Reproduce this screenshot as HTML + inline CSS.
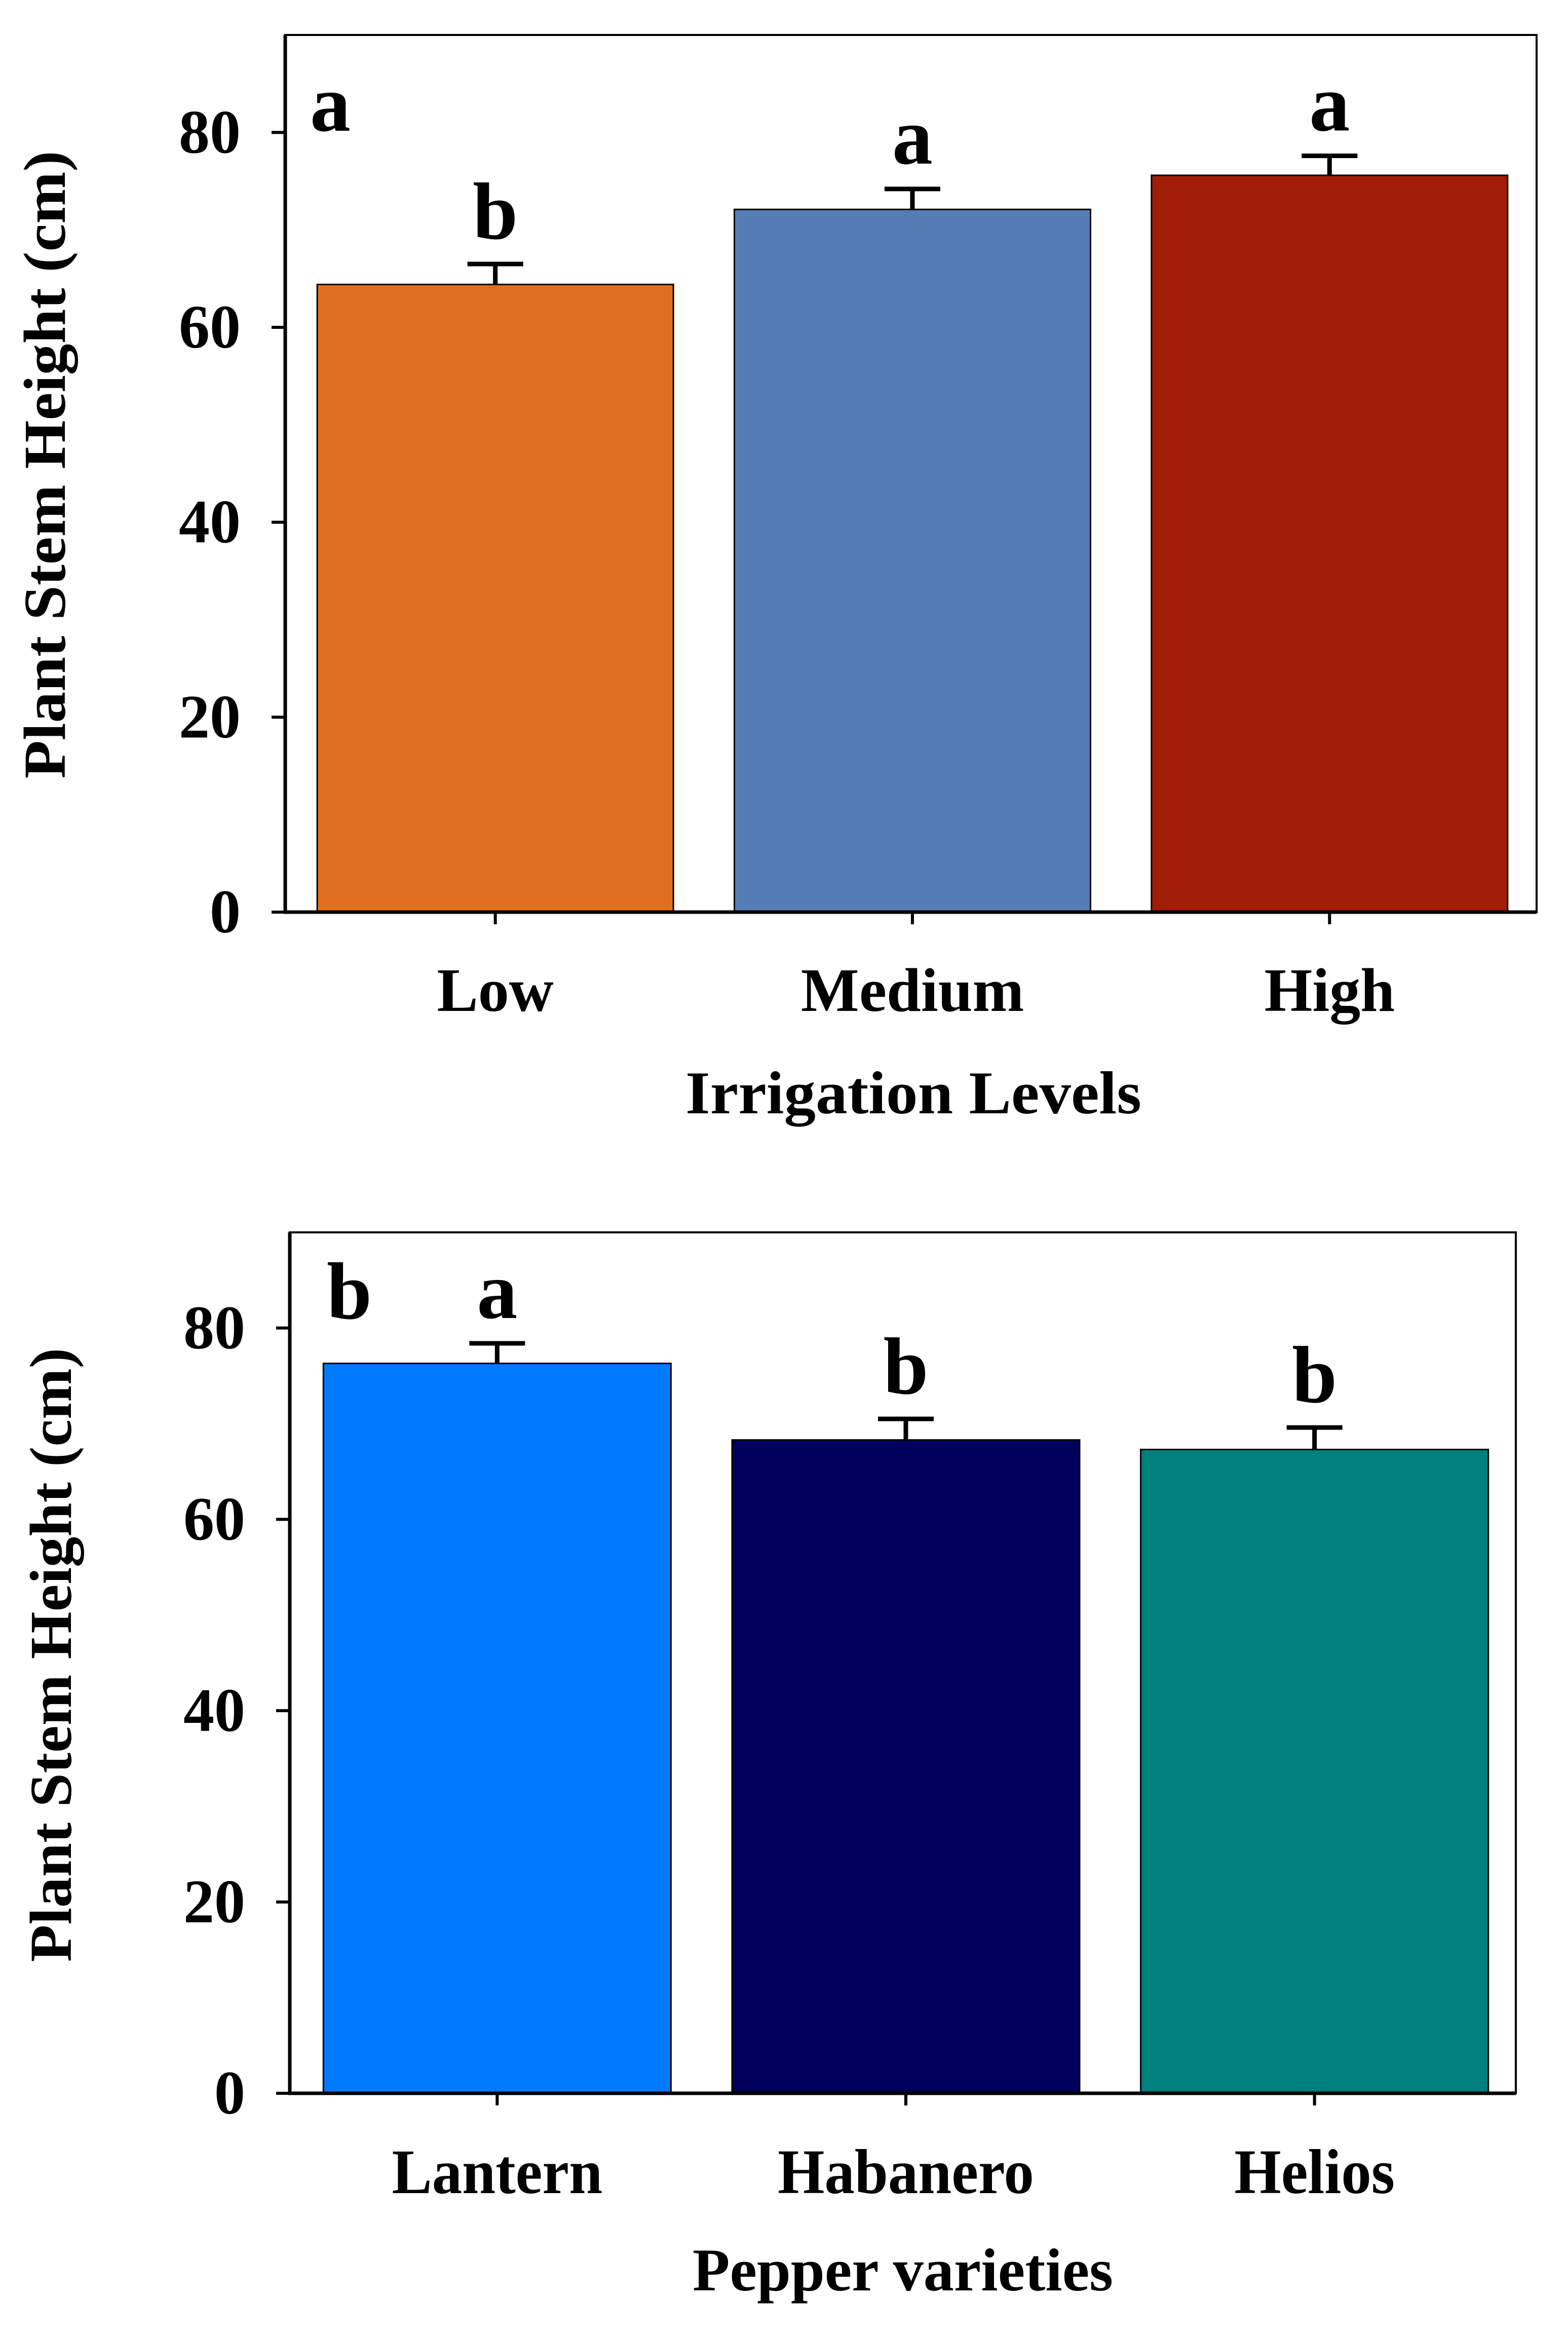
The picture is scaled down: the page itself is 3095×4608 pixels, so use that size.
<!DOCTYPE html>
<html><head><meta charset="utf-8"><style>
html,body{margin:0;padding:0;background:#fff}
svg{display:block}
text{font-family:"Liberation Serif",serif;font-weight:bold;fill:#000}
</style></head><body>
<svg id="chart" width="3095" height="4608" viewBox="0 0 3095 4608" xmlns="http://www.w3.org/2000/svg"></svg>
<script>
// Panel a data
const catsA = ["Low", "Medium", "High"];
const valsA = [64.4, 72.1, 75.6];
const errA = [2.1, 2.1, 2.0];
const lettersA = ["b", "a", "a"];
const colorsA = ["#E07020", "#557CB4", "#A01E07"];
// Panel b data
const catsB = ["Lantern", "Habanero", "Helios"];
const valsB = [76.3, 68.3, 67.3];
const errB = [2.1, 2.2, 2.3];
const lettersB = ["a", "b", "b"];
const colorsB = ["#007BFF", "#00005C", "#007F7F"];
const yTicks = [0, 20, 40, 60, 80];
const yMax = 90;

const svg = document.getElementById('chart');
const NS = 'http://www.w3.org/2000/svg';
function mk(tag, attrs, parent){
  const e = document.createElementNS(NS, tag);
  for (const k in attrs) e.setAttribute(k, attrs[k]);
  (parent||svg).appendChild(e);
  return e;
}

function panel(cfg){
  const g = mk('g', {});
  
  
  const y = v => cfg.y0 - (v / yMax) * (cfg.y0 - cfg.yTop);
  const step = (cfg.xR - cfg.xL) / cfg.cats.length;
  const x = i => cfg.xL + step * (i + 0.5) + cfg.cOff;
  const bw = cfg.bw;
  cfg.vals.forEach((v, i) => {
    const r = mk('rect', {x: x(i) - bw/2, y: y(v), width: bw, height: y(0) - y(v), fill: cfg.colors[i], stroke: '#000', 'stroke-width': 3}, g);
    
    
    const top = y(v + cfg.err[i]);
    const eb = mk('path', {d: `M${x(i)} ${y(v)} V${top} M${x(i)-55} ${top} H${x(i)+55}`, stroke: '#000', 'stroke-width': 9, fill: 'none'}, g);
    
    
    const lt = mk('text', {x: x(i), y: top - 50, 'font-size': 160, 'text-anchor': 'middle'}, g);
    lt.textContent = cfg.letters[i];
    
    
    const tk = mk('line', {x1: x(i), x2: x(i), y1: cfg.y0, y2: cfg.y0 + 24, stroke: '#000', 'stroke-width': 6}, g);
    
    
    const cl = mk('text', {x: x(i), y: cfg.catBase, 'font-size': cfg.fs, 'text-anchor': 'middle'}, g);
    if (cfg.cond) { cl.setAttribute('transform', `translate(${x(i)} 0) scale(${cfg.cond} 1) translate(${-x(i)} 0)`); }
    cl.textContent = cfg.cats[i];
    
    
  });
  const fr = mk('rect', {x: cfg.xL, y: cfg.yTop, width: cfg.xR - cfg.xL, height: cfg.y0 - cfg.yTop, fill: 'none', stroke: '#000', 'stroke-width': 4}, g);
  
  
  const ax = mk('path', {d: `M${cfg.xL} ${cfg.yTop} V${cfg.y0} H${cfg.xR}`, stroke: '#000', 'stroke-width': 7, fill: 'none'}, g);
  
  
  yTicks.forEach(t => {
    const tl = mk('line', {x1: cfg.xL - 27, x2: cfg.xL, y1: y(t), y2: y(t), stroke: '#000', 'stroke-width': 6}, g);
    
    
    const tt = mk('text', {x: cfg.tickR, y: y(t) + 40, 'font-size': cfg.tfs, 'text-anchor': 'end'}, g);
    tt.textContent = t;
    
    
  });
  const yt = mk('text', {x: 0, y: 0, 'font-size': 118, 'text-anchor': 'middle', textLength: cfg.ytLen, lengthAdjust: 'spacingAndGlyphs', transform: `translate(${cfg.ytX} ${cfg.ytY}) rotate(-90)`}, g);
  yt.textContent = 'Plant Stem Height (cm)';
  
  
  const xt = mk('text', {x: cfg.xtX, y: cfg.xtY, 'font-size': 120, 'text-anchor': 'middle', textLength: cfg.xtLen, lengthAdjust: 'spacingAndGlyphs'}, g);
  xt.textContent = cfg.xTitle;
  
  
  const pl = mk('text', {x: cfg.plX, y: cfg.plY, 'font-size': 160}, g);
  pl.textContent = cfg.panel;
  
  
}

panel({name: 'panel-a-irrigation', cats: catsA, vals: valsA, err: errA, letters: lettersA, colors: colorsA,
  xL: 563, xR: 3033, yTop: 69, y0: 1800, bw: 703, cOff: 3, tickR: 475, tfs: 122, catBase: 1995, fs: 122, cond: 0,
  ytX: 128, ytY: 917, ytLen: 1239, xtX: 1803, xtY: 2197, xtLen: 900, xTitle: 'Irrigation Levels', plX: 612, plY: 258, panel: 'a'});
panel({name: 'panel-b-varieties', cats: catsB, vals: valsB, err: errB, letters: lettersB, colors: colorsB,
  xL: 572, xR: 2992, yTop: 2432, y0: 4131, bw: 686, cOff: 6, tickR: 484, tfs: 122, catBase: 4328, fs: 125, cond: 0.95,
  ytX: 140, ytY: 3266, ytLen: 1212, xtX: 1782, xtY: 4520, xtLen: 830, xTitle: 'Pepper varieties', plX: 645, plY: 2602, panel: 'b'});
</script>
</body></html>
